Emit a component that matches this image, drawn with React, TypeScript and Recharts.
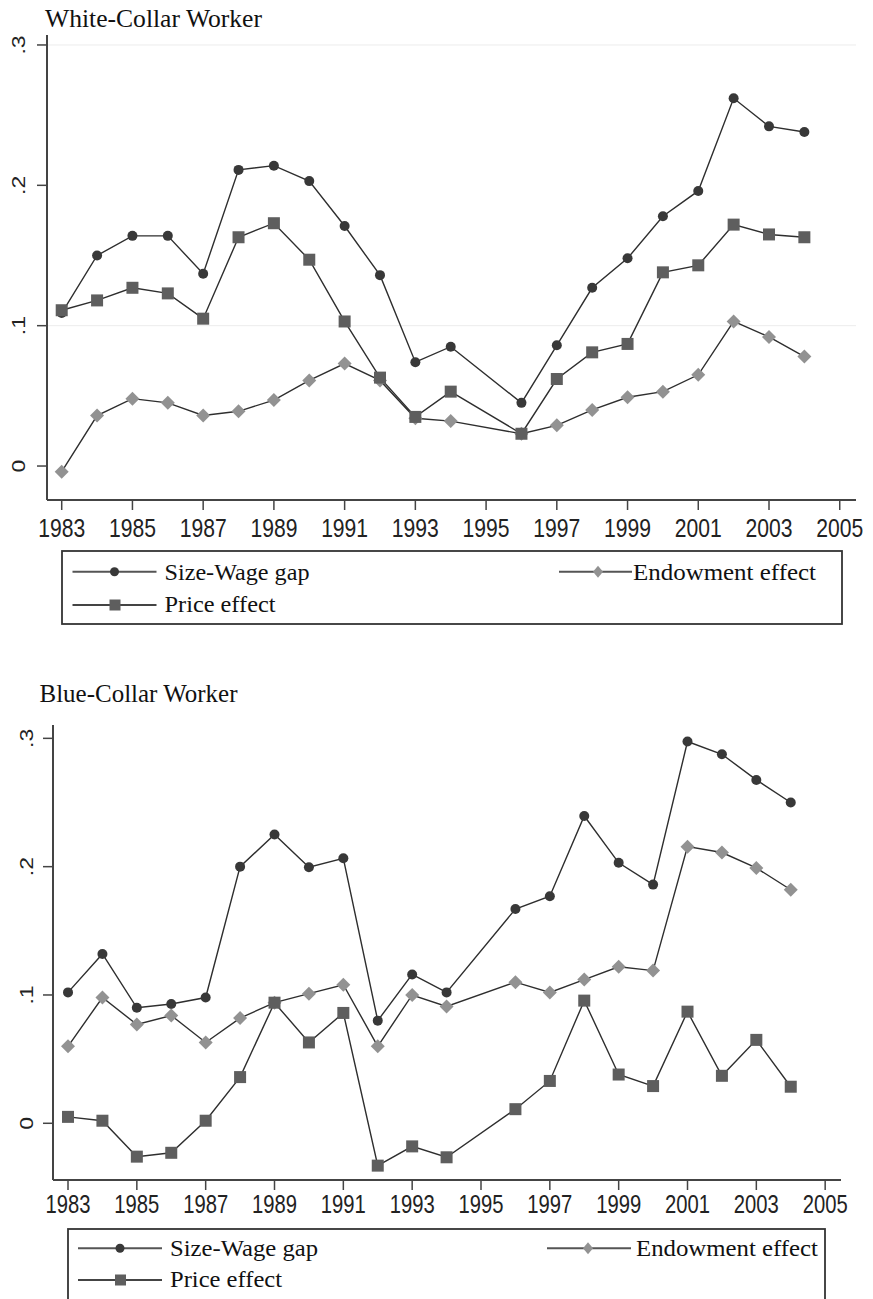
import React from "react";
import { LineChart, Line, XAxis, YAxis, CartesianGrid } from "recharts";

// years (1995 has no observation in either panel)
const years = [1983, 1984, 1985, 1986, 1987, 1988, 1989, 1990, 1991, 1992, 1993, 1994, 1996, 1997, 1998, 1999, 2000, 2001, 2002, 2003, 2004];
const xTicks = [1983, 1985, 1987, 1989, 1991, 1993, 1995, 1997, 1999, 2001, 2003, 2005];
const yTicks = [0, 0.1, 0.2, 0.3];

const whiteGap = [0.109, 0.15, 0.164, 0.164, 0.137, 0.211, 0.214, 0.203, 0.171, 0.136, 0.074, 0.085, 0.045, 0.086, 0.127, 0.148, 0.178, 0.196, 0.262, 0.242, 0.238];
const whiteEndow = [-0.004, 0.036, 0.048, 0.045, 0.036, 0.039, 0.047, 0.061, 0.073, 0.061, 0.034, 0.032, 0.023, 0.029, 0.04, 0.049, 0.053, 0.065, 0.103, 0.092, 0.078];
const whitePrice = [0.111, 0.118, 0.127, 0.123, 0.105, 0.163, 0.173, 0.147, 0.103, 0.063, 0.035, 0.053, 0.023, 0.062, 0.081, 0.087, 0.138, 0.143, 0.172, 0.165, 0.163];

const blueGap = [0.102, 0.132, 0.09, 0.093, 0.098, 0.2, 0.225, 0.1995, 0.2065, 0.08, 0.116, 0.102, 0.167, 0.177, 0.2395, 0.203, 0.186, 0.2975, 0.2876, 0.2676, 0.25];
const blueEndow = [0.06, 0.098, 0.077, 0.084, 0.063, 0.082, 0.094, 0.101, 0.108, 0.06, 0.1, 0.091, 0.11, 0.102, 0.112, 0.122, 0.119, 0.2156, 0.211, 0.199, 0.182];
const bluePrice = [0.005, 0.002, -0.026, -0.023, 0.002, 0.036, 0.094, 0.063, 0.086, -0.033, -0.018, -0.0265, 0.011, 0.033, 0.0956, 0.038, 0.029, 0.087, 0.037, 0.065, 0.0285];

const whiteData = years.map((year, i) => ({ year, gap: whiteGap[i], endow: whiteEndow[i], price: whitePrice[i] }));
const blueData = years.map((year, i) => ({ year, gap: blueGap[i], endow: blueEndow[i], price: bluePrice[i] }));

const GAP_COLOR = "#383838";
const PRICE_COLOR = "#5e5e5e";
const ENDOW_COLOR = "#929292";
const LINE_COLOR = "#2e2e2e";

const fmt = (v: number) => (v === 0 ? "0" : String(v).replace(/^0/, ""));

const CircleDot = (props: any) => {
  const { cx, cy, index } = props;
  if (cx == null || cy == null) return <g key={`c-${index}`} />;
  return <circle key={`c-${index}`} cx={cx} cy={cy} r={5} fill={GAP_COLOR} />;
};

const SquareDot = (props: any) => {
  const { cx, cy, index } = props;
  if (cx == null || cy == null) return <g key={`s-${index}`} />;
  return <rect key={`s-${index}`} x={cx - 6} y={cy - 6} width={12} height={12} fill={PRICE_COLOR} />;
};

const DiamondDot = (props: any) => {
  const { cx, cy, index } = props;
  if (cx == null || cy == null) return <g key={`d-${index}`} />;
  return (
    <path
      key={`d-${index}`}
      d={`M${cx},${cy - 7} L${cx + 7},${cy} L${cx},${cy + 7} L${cx - 7},${cy} Z`}
      fill={ENDOW_COLOR}
    />
  );
};

const XTick = (props: any) => {
  const { x, payload, baseY, len } = props;
  return (
    <text
      x={x}
      y={baseY}
      textAnchor="middle"
      fontFamily="'Liberation Sans', Arial, sans-serif"
      fontSize={25}
      fill="#222"
      textLength={len}
      lengthAdjust="spacingAndGlyphs"
    >
      {payload.value}
    </text>
  );
};

const YTick = (props: any) => {
  const { y, payload, baseX } = props;
  return (
    <text
      transform={`translate(${baseX},${y}) rotate(-90) scale(1,0.8)`}
      textAnchor="middle"
      fontFamily="'Liberation Sans', Arial, sans-serif"
      fontSize={23}
      fill="#222"
    >
      {fmt(payload.value)}
    </text>
  );
};

const Panel = ({ data, height, margin, yWidth, xDomain, yDomain, xBase, xLen, yBase, grid }: any) => (
  <LineChart width={873} height={height} data={data} margin={margin}>
    {grid && (
      <CartesianGrid vertical={false} horizontalValues={[0.1, 0.3]} stroke="#ececec" strokeWidth={1} />
    )}
    <XAxis
      type="number"
      dataKey="year"
      domain={xDomain}
      ticks={xTicks}
      allowDataOverflow
      height={40}
      tickSize={10}
      axisLine={{ stroke: "#444", strokeWidth: 2 }}
      tickLine={{ stroke: "#444", strokeWidth: 1.5 }}
      tick={(p: any) => <XTick {...p} baseY={xBase} len={xLen} />}
      interval={0}
    />
    <YAxis
      type="number"
      domain={yDomain}
      ticks={yTicks}
      allowDataOverflow
      width={yWidth}
      tickSize={10}
      axisLine={{ stroke: "#444", strokeWidth: 2 }}
      tickLine={{ stroke: "#444", strokeWidth: 1.5 }}
      tick={(p: any) => <YTick {...p} baseX={yBase} />}
      interval={0}
    />
    <Line dataKey="gap" stroke={LINE_COLOR} strokeWidth={1.4} dot={CircleDot} isAnimationActive={false} />
    <Line dataKey="endow" stroke={LINE_COLOR} strokeWidth={1.4} dot={DiamondDot} isAnimationActive={false} />
    <Line dataKey="price" stroke={LINE_COLOR} strokeWidth={1.4} dot={SquareDot} isAnimationActive={false} />
  </LineChart>
);

const serif = "'Liberation Serif', 'Times New Roman', serif";

const LegendBox = ({ x, y, w, h, r1, r2, gapX, endX, endMarker, endTextX, t1, t2, endLen, texts }: any) => (
  <g>
    <rect x={x} y={y} width={w} height={h} fill="none" stroke="#333" strokeWidth={1.8} />
    <line x1={gapX} x2={gapX + 84} y1={r1} y2={r1} stroke="#555" strokeWidth={2} />
    <circle cx={gapX + 42} cy={r1} r={4.5} fill={GAP_COLOR} />
    <text x={gapX + 92} y={t1} fontFamily={serif} fontSize={24} fill="#111" textLength={texts[0]} lengthAdjust="spacingAndGlyphs">
      Size-Wage gap
    </text>
    <line x1={endX} x2={endX + endLen} y1={r1} y2={r1} stroke="#555" strokeWidth={2} />
    <path d={`M${endMarker},${r1 - 6} L${endMarker + 5},${r1} L${endMarker},${r1 + 6} L${endMarker - 5},${r1} Z`} fill={ENDOW_COLOR} />
    <text x={endTextX} y={t1} fontFamily={serif} fontSize={24} fill="#111" textLength={texts[1]} lengthAdjust="spacingAndGlyphs">
      Endowment effect
    </text>
    <line x1={gapX} x2={gapX + 84} y1={r2} y2={r2} stroke="#444" strokeWidth={2} />
    <rect x={gapX + 37} y={r2 - 5.5} width={11} height={11} fill={PRICE_COLOR} />
    <text x={gapX + 92} y={t2} fontFamily={serif} fontSize={24} fill="#111" textLength={texts[2]} lengthAdjust="spacingAndGlyphs">
      Price effect
    </text>
  </g>
);

export default function App() {
  return (
    <div style={{ position: "absolute", left: 0, top: 0, width: 873, height: 1299, background: "#fff", overflow: "hidden" }}>
      <div style={{ position: "absolute", left: 0, top: 0 }}>
        <Panel
          data={whiteData}
          height={560}
          margin={{ top: 35, right: 17, left: 0, bottom: 20 }}
          yWidth={47}
          xDomain={[1982.584, 2005.46]}
          yDomain={[-0.0242, 0.3071]}
          xBase={536.7}
          xLen={47}
          yBase={25}
          grid
        />
      </div>
      <div style={{ position: "absolute", left: 0, top: 640 }}>
        <Panel
          data={blueData}
          height={600}
          margin={{ top: 85, right: 32, left: 0, bottom: 20 }}
          yWidth={53}
          xDomain={[1982.564, 2005.46]}
          yDomain={[-0.0442, 0.3104]}
          xBase={573}
          xLen={45}
          yBase={33}
          grid={false}
        />
      </div>
      <svg width={873} height={1299} style={{ position: "absolute", left: 0, top: 0, pointerEvents: "none" }}>
        <text x={45} y={26.7} fontFamily={serif} fontSize={25} fill="#111" textLength={217} lengthAdjust="spacingAndGlyphs">
          White-Collar Worker
        </text>
        <text x={39.5} y={701.7} fontFamily={serif} fontSize={25} fill="#111" textLength={198} lengthAdjust="spacingAndGlyphs">
          Blue-Collar Worker
        </text>
        <LegendBox
          x={62} y={551} w={780} h={73}
          r1={571.7} r2={605} t1={580} t2={612}
          gapX={72.5} endX={559} endLen={73} endMarker={598} endTextX={633}
          texts={[145, 183, 111]}
        />
        <LegendBox
          x={68} y={1229} w={757} h={100}
          r1={1248.3} r2={1280} t1={1256} t2={1287}
          gapX={78} endX={547} endLen={84} endMarker={588} endTextX={636}
          texts={[148, 182, 112]}
        />
      </svg>
    </div>
  );
}
